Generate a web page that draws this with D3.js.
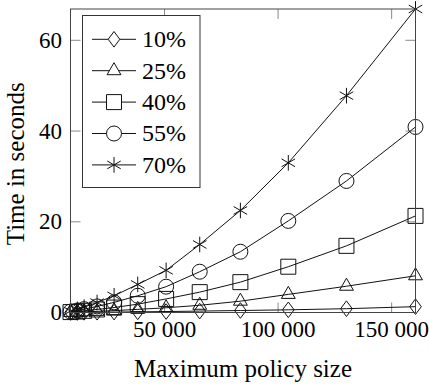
<!DOCTYPE html>
<html>
<head>
<meta charset="utf-8">
<script src="https://cdn.jsdelivr.net/npm/d3@7"></script>
<style>
  html, body { margin: 0; padding: 0; background: #fff; }
  svg { display: block; }
</style>
</head>
<body>
<svg id="chart" width="429" height="387"></svg>
<script>
// Maximum policy size (x) for every measured run
const policySizes = [8600, 11600, 14600, 20300, 27800, 38200, 50700, 65500, 83400, 104500, 130100, 160500];

// Runtime in seconds, one list per percentage
const time10 = [0.01, 0.02, 0.04, 0.06, 0.1, 0.15, 0.22, 0.32, 0.45, 0.6, 0.85, 1.3];
const time25 = [0.04, 0.09, 0.15, 0.26, 0.42, 0.7, 1.05, 1.6, 2.5, 4.0, 5.8, 8.1];
const time40 = [0.1, 0.22, 0.38, 0.68, 1.1, 1.85, 3.0, 4.5, 6.7, 10.1, 14.7, 21.3];
const time55 = [0.2, 0.45, 0.75, 1.35, 2.25, 3.7, 5.7, 9.0, 13.4, 20.2, 29.0, 40.9];
const time70 = [0.35, 0.7, 1.2, 2.2, 3.7, 6.2, 9.3, 15.0, 22.5, 33.0, 47.8, 66.9];

const seriesNames = ["10%", "25%", "40%", "55%", "70%"];
const seriesMarks = ["diamond", "triangle", "square", "circle", "asterisk"];
const seriesValues = [time10, time25, time40, time55, time70];

const xTicks = [50000, 100000, 150000];
const yTicks = [0, 20, 40, 60];

const xLabel = "Maximum policy size";
const yLabel = "Time in seconds";

const plot = { left: 70.5, right: 415.5, top: 9, bottom: 312.5 };
const serif = '"Liberation Serif"';

const svg = d3.select("#chart");

const allY = seriesValues.flat();
const x = d3.scaleLinear()
  .domain(d3.extent(policySizes))
  .range([plot.left, plot.right]);
const y = d3.scaleLinear()
  .domain([d3.min(allY), d3.max(allY)])
  .range([plot.bottom, plot.top]);

const fmtX = v => d3.format(",")(v).replace(/,/g, " ");

// Marker outlines, centred on the origin
function markPath(kind) {
  const p = d3.path();
  if (kind === "diamond") {
    const w = 5.8, h = 7.8;
    p.moveTo(0, -h); p.lineTo(w, 0); p.lineTo(0, h); p.lineTo(-w, 0); p.closePath();
  } else if (kind === "triangle") {
    const r = 8;
    p.moveTo(0, -r); p.lineTo(0.866 * r, 0.5 * r); p.lineTo(-0.866 * r, 0.5 * r); p.closePath();
  } else if (kind === "square") {
    const s = 7.5;
    p.rect(-s, -s, 2 * s, 2 * s);
  } else if (kind === "circle") {
    const r = 7.5;
    p.moveTo(r, 0); p.arc(0, 0, r, 0, 2 * Math.PI);
  } else if (kind === "asterisk") {
    const r = 7.8;
    [90, 30, 150].forEach(a => {
      const t = a * Math.PI / 180;
      p.moveTo(r * Math.cos(t), -r * Math.sin(t));
      p.lineTo(-r * Math.cos(t), r * Math.sin(t));
    });
  }
  return p.toString();
}

// Tick marks on all four sides, pointing inward
const tickLen = 10;
const ticks = svg.append("g").attr("stroke", "#8a8a8a").attr("stroke-width", 1);
xTicks.forEach(v => {
  const px = x(v);
  ticks.append("line").attr("x1", px).attr("x2", px).attr("y1", plot.bottom).attr("y2", plot.bottom - tickLen);
  ticks.append("line").attr("x1", px).attr("x2", px).attr("y1", plot.top).attr("y2", plot.top + tickLen);
});
yTicks.forEach(v => {
  const py = y(v);
  ticks.append("line").attr("x1", plot.left).attr("x2", plot.left + tickLen).attr("y1", py).attr("y2", py);
  ticks.append("line").attr("x1", plot.right).attr("x2", plot.right - tickLen).attr("y1", py).attr("y2", py);
});

// Tick labels
svg.append("g").selectAll("text").data(xTicks).join("text")
  .attr("x", d => x(d)).attr("y", 337)
  .attr("text-anchor", "middle").attr("font-size", 23).attr("font-family", serif)
  .text(fmtX);
svg.append("g").selectAll("text").data(yTicks).join("text")
  .attr("x", 62).attr("y", d => y(d) + 7.6)
  .attr("text-anchor", "end").attr("font-size", 23).attr("font-family", serif)
  .text(d => d);

// Axis titles
svg.append("text")
  .attr("x", (plot.left + plot.right) / 2).attr("y", 377)
  .attr("text-anchor", "middle").attr("font-size", 25).attr("font-family", serif)
  .text(xLabel);
svg.append("text")
  .attr("transform", `translate(24,${(plot.top + plot.bottom) / 2 + 3}) rotate(-90)`)
  .attr("text-anchor", "middle").attr("font-size", 25).attr("font-family", serif)
  .text(yLabel);

// Series lines and markers
const line = d3.line().x(d => x(d[0])).y(d => y(d[1]));
seriesValues.forEach((vals, i) => {
  const pts = policySizes.map((px, j) => [px, vals[j]]);
  const g = svg.append("g");
  g.append("path").attr("d", line(pts))
    .attr("fill", "none").attr("stroke", "#111").attr("stroke-width", 1);
  g.selectAll("path.mark").data(pts).join("path").attr("class", "mark")
    .attr("d", markPath(seriesMarks[i]))
    .attr("transform", d => `translate(${x(d[0])},${y(d[1])})`)
    .attr("fill", "none").attr("stroke", "#111").attr("stroke-width", 1);
});

// Axis frame
svg.append("rect")
  .attr("x", plot.left).attr("y", plot.top)
  .attr("width", plot.right - plot.left).attr("height", plot.bottom - plot.top)
  .attr("fill", "none").attr("stroke", "#444").attr("stroke-width", 1);

// Legend
const legend = svg.append("g");
const lg = { x: 82.5, y: 15.5, w: 117.5, h: 172, row0: 39.3, step: 31.4 };
legend.append("rect")
  .attr("x", lg.x).attr("y", lg.y).attr("width", lg.w).attr("height", lg.h)
  .attr("fill", "#fff").attr("stroke", "#333").attr("stroke-width", 1);
seriesNames.forEach((name, i) => {
  const cy = lg.row0 + i * lg.step;
  legend.append("line").attr("x1", 92).attr("x2", 136).attr("y1", cy).attr("y2", cy)
    .attr("stroke", "#111").attr("stroke-width", 1);
  legend.append("path").attr("d", markPath(seriesMarks[i]))
    .attr("transform", `translate(114,${cy})`)
    .attr("fill", "#fff").attr("stroke", "#111").attr("stroke-width", 1);
  legend.append("text").attr("x", 142).attr("y", cy + 7.8)
    .attr("font-size", 24).attr("font-family", serif).text(name);
});
</script>
</body>
</html>
